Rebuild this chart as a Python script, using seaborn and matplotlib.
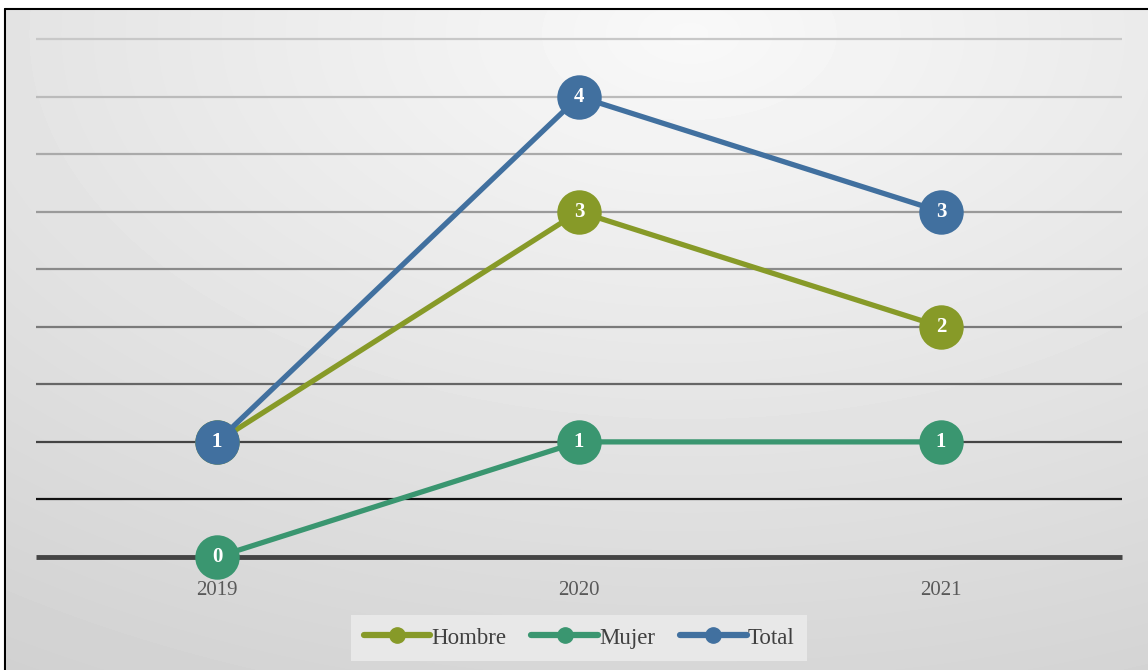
import numpy as np
import pandas as pd
import matplotlib
matplotlib.use("Agg")
import matplotlib.pyplot as plt
from matplotlib.lines import Line2D
import seaborn as sns

years = ["2019", "2020", "2021"]
hombre = [1, 3, 2]
mujer = [0, 1, 1]
total = [1, 4, 3]

series_names = ["Hombre", "Mujer", "Total"]
series_colors = {"Hombre": "#879A28", "Mujer": "#3A9670", "Total": "#41709F"}

df = pd.DataFrame({
    "year": years * 3,
    "value": hombre + mujer + total,
    "serie": ["Hombre"] * 3 + ["Mujer"] * 3 + ["Total"] * 3,
})

sns.set_theme(style="white")
plt.rcParams["font.family"] = ["Liberation Serif", "DejaVu Serif"]

fig = plt.figure(figsize=(11.48, 6.7), dpi=100)

# radial grey background
bg = fig.add_axes([0, 0, 1, 1], zorder=-10)
yy, xx = np.mgrid[0:670, 0:1148]
d = np.sqrt(((xx - 0.6 * 1148) / 1148) ** 2 + ((yy - 0.05 * 670) / 670) ** 2)
shade = np.clip(0.975 - 0.14 * d, 0, 1)
bg.imshow(shade, cmap="gray", vmin=0, vmax=1, aspect="auto", interpolation="bilinear")
bg.axis("off")
# white strip + black frame at top/left
fig.patches.append(plt.Rectangle((0, 0), 5 / 1148, 1, transform=fig.transFigure, color="white", zorder=-5))
fig.patches.append(plt.Rectangle((0, 1 - 9 / 670), 1, 9 / 670, transform=fig.transFigure, color="white", zorder=-5))
fig.add_artist(Line2D([5 / 1148, 5 / 1148], [0, 1 - 9 / 670], color="black", lw=1.5, transform=fig.transFigure))
fig.add_artist(Line2D([5 / 1148, 1], [1 - 9 / 670, 1 - 9 / 670], color="black", lw=1.5, transform=fig.transFigure))

ax = fig.add_axes([36 / 1148, 1 - 557 / 670, (1122 - 36) / 1148, (557 - 39) / 670])
ax.set_facecolor("none")

# graded gridlines
grid_levels = np.arange(0, 4.51, 0.5)
grid_colors = ["#444444", "#111111", "#444444", "#666666", "#7a7a7a",
               "#8a8a8a", "#9a9a9a", "#aaaaaa", "#bbbbbb", "#c8c8c8"]
for lvl, c in zip(grid_levels, grid_colors):
    ax.axhline(lvl, color=c, lw=3.5 if lvl == 0 else 1.6, zorder=1,
               clip_on=False, solid_capstyle="butt")

sns.lineplot(data=df, x="year", y="value", hue="serie", hue_order=series_names,
             palette=series_colors, marker="o", markersize=32, lw=3.8,
             markeredgewidth=0, sort=False, legend=False, ax=ax, zorder=3)
for ln in ax.lines:
    ln.set_clip_on(False)

for name, vals in zip(series_names, [hombre, mujer, total]):
    for i, v in enumerate(vals):
        ax.text(i, v, str(v), ha="center", va="center", color="white",
                fontsize=15, fontweight="bold", zorder=5)

ax.set_xlim(-0.5, 2.5)
ax.set_ylim(0, 4.5)
ax.set_yticks([])
ax.set_xlabel("")
ax.set_ylabel("")
ax.tick_params(axis="x", length=0, pad=17, labelsize=15, labelcolor="#595959")
for s in ax.spines.values():
    s.set_visible(False)

handles = [Line2D([0], [0], color=series_colors[n], lw=4.5, marker="o", markersize=11,
                  solid_capstyle="round") for n in series_names]
leg = fig.legend(handles, series_names, loc="center", bbox_to_anchor=(579 / 1148, 1 - 638 / 670),
                 ncol=3, frameon=True, fontsize=16.5, handlelength=2.9, handletextpad=0.05,
                 columnspacing=1.1, borderpad=0.55, fancybox=False)
leg.get_frame().set_facecolor("#e8e8e8")
leg.get_frame().set_edgecolor("none")
leg.get_frame().set_alpha(1)
for t in leg.get_texts():
    t.set_color("#404040")

fig.savefig("out.png", dpi=100)
